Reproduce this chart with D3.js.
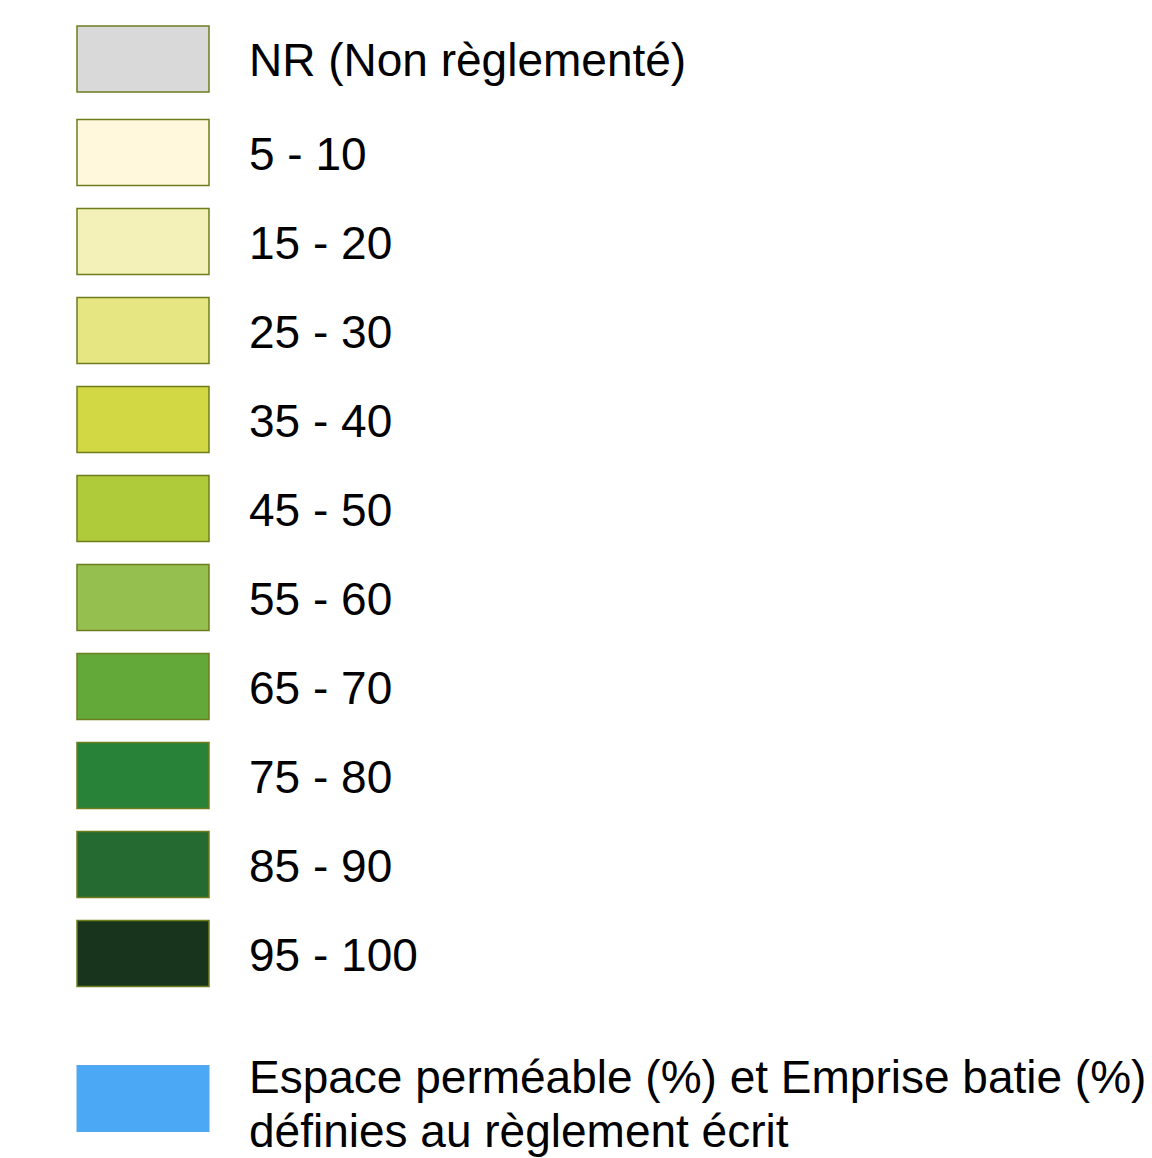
<!DOCTYPE html>
<html>
<head>
<meta charset="utf-8">
<script src="https://cdn.jsdelivr.net/npm/d3@7"></script>
<style>
  body { margin: 0; background: #fff; }
  text { font-family: "Liberation Sans", Arial, sans-serif; fill: #000; }
</style>
</head>
<body>
<div id="legend"></div>
<script>
// legend for the building footprint / permeable-space classes
const width = 1152;
const height = 1158;

// classes (the NR row sits on top, a bit further from the rest)
const nrLabel = "NR (Non règlementé)";
const nrColor = "#d9d9d9";
const rangeLabels = ["5 - 10", "15 - 20", "25 - 30", "35 - 40", "45 - 50",
                     "55 - 60", "65 - 70", "75 - 80", "85 - 90", "95 - 100"];
const rangeColors = ["#fff8dc", "#f3f0b8", "#e6e682", "#d1d843", "#b0cb3a",
                     "#95c050", "#63a93a", "#288339", "#246a31", "#18341d"];
const noteLines = ["Espace perméable (%) et Emprise batie (%)",
                   "définies au règlement écrit"];
const noteColor = "#4aa8f5";

const box = {x: 77, w: 132, h: 66};
const textX = 249;

const svg = d3.select("#legend")
  .append("svg")
  .attr("width", width)
  .attr("height", height);

// row positions
const yRow = d3.scalePoint()
  .domain(rangeLabels)
  .range([152.5, 953.5]);

const rows = [{label: nrLabel, color: nrColor, cy: yRow(rangeLabels[0]) - yRow.step() - 4.5}]
  .concat(rangeLabels.map((l, i) => ({label: l, color: rangeColors[i], cy: yRow(l)})));

const g = svg.selectAll(".row")
  .data(rows)
  .enter()
  .append("g")
  .attr("class", "row");

g.append("rect")
  .attr("x", box.x)
  .attr("y", d => d.cy - box.h / 2)
  .attr("width", box.w)
  .attr("height", box.h)
  .attr("fill", d => d.color)
  .attr("stroke", "#6e7d1c")
  .attr("stroke-width", 1.5);

g.append("text")
  .attr("x", textX)
  .attr("y", d => d.cy + 17)
  .attr("font-size", "46px")
  .text(d => d.label);

// blue note entry
const noteY = 1098.5;
svg.append("rect")
  .attr("x", box.x)
  .attr("y", noteY - box.h / 2)
  .attr("width", box.w)
  .attr("height", box.h)
  .attr("fill", noteColor)
  .attr("stroke", "#5aa6e8")
  .attr("stroke-width", 1);

svg.append("text")
  .attr("font-size", "46px")
  .selectAll("tspan")
  .data(noteLines)
  .enter()
  .append("tspan")
  .attr("x", textX)
  .attr("y", (d, i) => 1093 + i * 53.5)
  .text(d => d);
</script>
</body>
</html>
